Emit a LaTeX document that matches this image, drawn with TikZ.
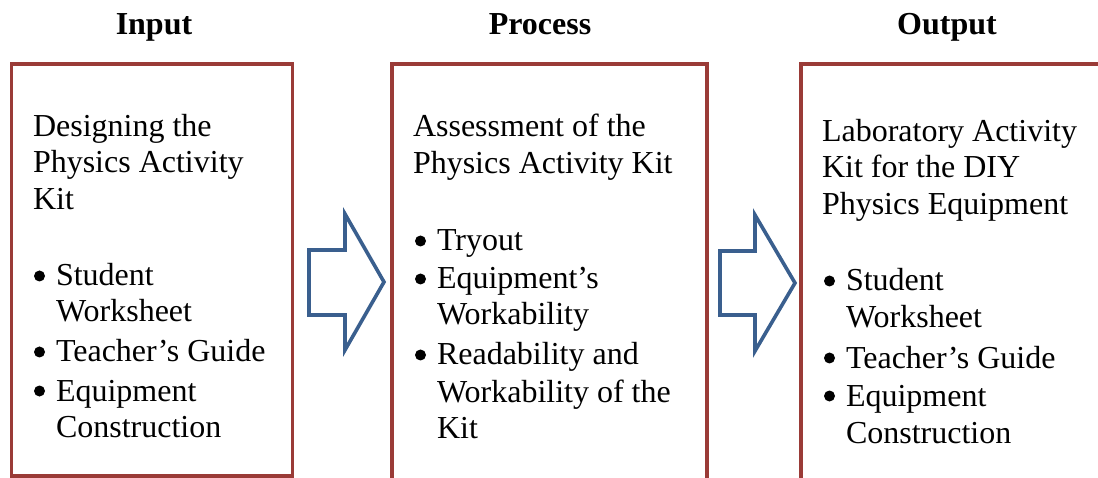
\documentclass[tikz,border=0pt]{standalone}
\usepackage{fontspec}
\setmainfont{Liberation Serif}
\begin{document}
\begin{tikzpicture}[x=1pt,y=-1pt,
  boxline/.style={draw=boxred,line width=3.5pt},
  blockarrow/.style={draw=arrowblue,line width=3.6pt,line join=miter,fill=white},
  txt/.style={anchor=base west,inner sep=0pt,outer sep=0pt,font=\fontsize{32}{36}\selectfont},
  bul/.style={circle,fill=black,inner sep=0pt,minimum size=11pt},
  ttl/.style={anchor=base,inner sep=0pt,outer sep=0pt,font=\fontsize{32}{36}\selectfont\bfseries}]
\definecolor{boxred}{HTML}{9A3B37}
\definecolor{arrowblue}{HTML}{3A5F8E}
\useasboundingbox (0,0) rectangle (1098,478);
\fill[white] (0,0) rectangle (1098,478);
% titles
\node[ttl] (tin) at (154,35) {Input};
\node[ttl] (tpr) at (540,35) {Process};
\node[ttl] (tout) at (947,35) {Output};
% boxes
\draw[boxline] (11.5,64) rectangle (292.5,476);
\draw[boxline] (392,480) -- (392,64) -- (707,64) -- (707,480);
\draw[boxline] (801,480) -- (801,64) -- (1100,64);
% block arrows
\draw[blockarrow] (309,250) -- (345,250) -- (345,214) -- (384,282) -- (345,350) -- (345,315) -- (309,315) -- cycle;
\draw[blockarrow] (720,251) -- (755,251) -- (755,215) -- (795,283) -- (755,351) -- (755,315) -- (720,315) -- cycle;
% input text
\node[txt] (i1) at (33,137) {Designing the};
\node[txt] (i2) at (33,173) {Physics Activity};
\node[txt] (i3) at (33,210) {Kit};
\node[bul] (ib1) at (39.5,276) {};
\node[txt] (i4) at (56,286) {Student};
\node[txt] (i5) at (56,322) {Worksheet};
\node[bul] (ib2) at (39.5,352) {};
\node[txt] (i6) at (56,362) {Teacher’s Guide};
\node[bul] (ib3) at (39.5,391) {};
\node[txt] (i7) at (56,401) {Equipment};
\node[txt] (i8) at (56,437) {Construction};
% process text
\node[txt] (p1) at (413,137) {Assessment of the};
\node[txt] (p2) at (413,174) {Physics Activity Kit};
\node[bul] (pb1) at (420.5,241) {};
\node[txt] (p3) at (437,251) {Tryout};
\node[bul] (pb2) at (420.5,279) {};
\node[txt] (p4) at (437,289) {Equipment’s};
\node[txt] (p5) at (437,325) {Workability};
\node[bul] (pb3) at (420.5,355) {};
\node[txt] (p6) at (437,365) {Readability and};
\node[txt] (p7) at (437,402) {Workability of the};
\node[txt] (p8) at (437,438) {Kit};
% output text
\node[txt] (o1) at (822,142) {Laboratory Activity};
\node[txt] (o2) at (822,178) {Kit for the DIY};
\node[txt] (o3) at (822,215) {Physics Equipment};
\node[bul] (ob1) at (829.5,281) {};
\node[txt] (o4) at (846,291) {Student};
\node[txt] (o5) at (846,328) {Worksheet};
\node[bul] (ob2) at (829.5,358) {};
\node[txt] (o6) at (846,368) {Teacher’s Guide};
\node[bul] (ob3) at (829.5,396) {};
\node[txt] (o7) at (846,406) {Equipment};
\node[txt] (o8) at (846,443) {Construction};
\end{tikzpicture}
\end{document}
